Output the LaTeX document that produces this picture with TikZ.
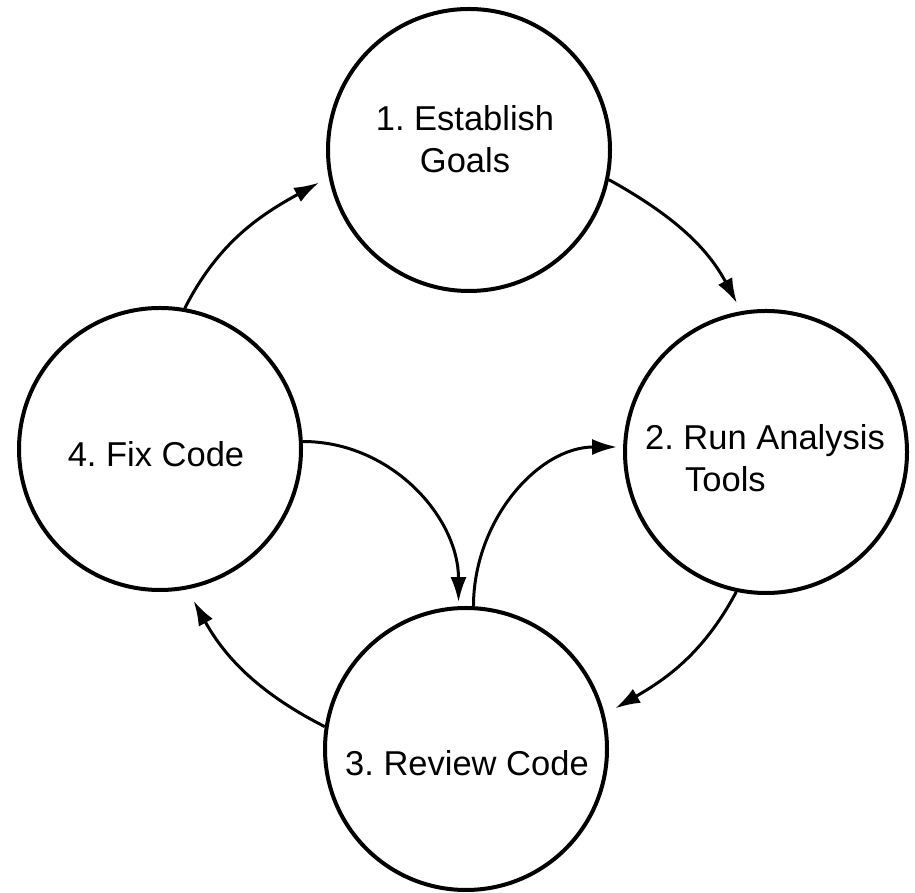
\documentclass[tikz,border=0pt]{standalone}
\usepackage{fontspec}
\setmainfont{Liberation Sans}
\usetikzlibrary{arrows.meta}
\frenchspacing
\begin{document}
\begin{tikzpicture}[x=1pt,y=1pt,
  stage/.style={circle, draw=black, line width=4pt, minimum size=282pt, inner sep=0pt},
  lbl/.style={font=\fontsize{34.5}{42}\selectfont, align=center, inner sep=0pt},
  flow/.style={line width=3pt, -{Latex[length=25pt,width=16pt]}}]
\useasboundingbox (0,0) rectangle (915,893);
\node[stage] (c1) at (469,743) {};
\node[stage] (c2) at (766,441) {};
\node[stage] (c3) at (466,144) {};
\node[stage] (c4) at (160,444) {};
\node[lbl] (t1) at (465,754) {1. Establish\\Goals};
\node[lbl, align=left] (t2) at (765,434.5) {2. Run Analysis\\\hspace*{40pt}Tools};
\node[lbl] (t3) at (467,130) {3. Review Code};
\node[lbl] (t4) at (156,439) {4. Fix Code};
\draw[flow, shorten >=9pt] (c1.-12) to[out=-29,in=118] (c2.100);
\draw[flow, shorten >=12pt] (c2.258) to[out=-118,in=30] (c3.14);
\draw[flow, shorten >=13pt] (c3.171) to[out=153,in=-61] (c4.-79);
\draw[flow, shorten >=11pt] (c4.80) to[out=63,in=-151] (c1.191);
\draw[flow, shorten >=4pt] (c4.3) to[out=0,in=90] (c3.93.5);
\draw[flow, shorten >=6pt] (c3.87) to[out=90,in=180] (c2.178);
\end{tikzpicture}
\end{document}
